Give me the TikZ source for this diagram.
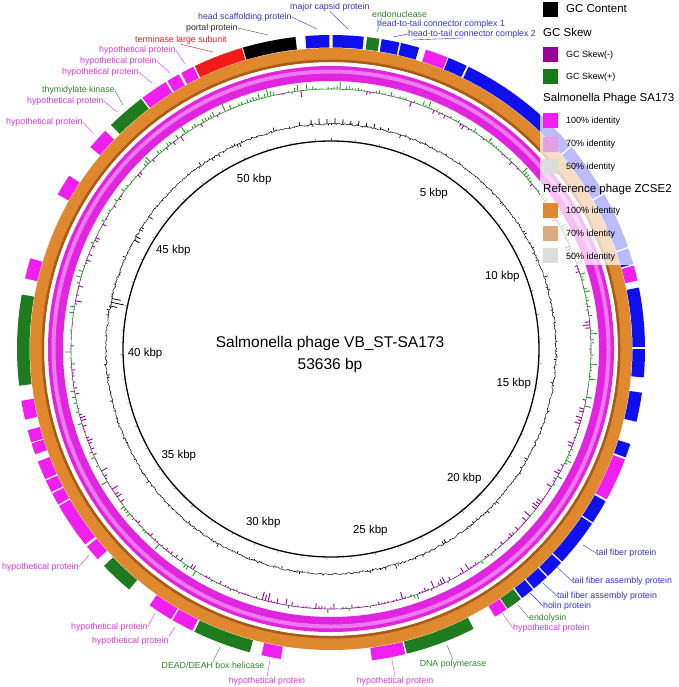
\documentclass[tikz,border=0pt]{standalone}
\usepackage{fontspec}
\setmainfont{Liberation Sans}
\definecolor{gmag}{HTML}{F01EF0}
\definecolor{gblue}{HTML}{1010EE}
\definecolor{ggreen}{HTML}{1E7B1E}
\definecolor{gred}{HTML}{F21A1A}
\definecolor{rmag}{HTML}{E024E0}
\definecolor{rmagl}{HTML}{EE78EE}
\definecolor{rorg}{HTML}{E0882E}
\definecolor{rorgd}{HTML}{A85C1A}
\definecolor{skm}{HTML}{990099}
\definecolor{skp}{HTML}{1C9A1C}
\definecolor{lmag}{HTML}{E236E2}
\definecolor{lblue}{HTML}{3232D6}
\definecolor{lgreen}{HTML}{2A8A2A}
\definecolor{lred}{HTML}{E82020}
\definecolor{lgrey}{HTML}{DDDDDD}
\definecolor{lmag7}{HTML}{E3A0E3}
\definecolor{ltan}{HTML}{DDAA7E}
\tikzset{
 lab/.style={inner sep=0pt, font=\fontsize{8.8}{10}\selectfont},
 lead/.style={line width=0.4pt},
 kbp/.style={inner sep=0pt, font=\fontsize{11.5}{13}\selectfont},
 leghead/.style={anchor=west, inner sep=0pt, font=\fontsize{11.5}{13}\selectfont},
 legitem/.style={anchor=west, inner sep=0pt, font=\fontsize{9}{10}\selectfont},
 legbox/.style={minimum size=15pt, inner sep=0pt, anchor=north west},
}
\newcommand\gene[3]{\fill[#3] ({90-(#1)}:301.5) arc[start angle={90-(#1)}, end angle={90-(#2)}, radius=301.5] -- ({90-(#2)}:314) arc[start angle={90-(#2)}, end angle={90-(#1)}, radius=314] -- cycle;}
\begin{document}
\begin{tikzpicture}[x=1pt,y=1pt]
\useasboundingbox (0,0) rectangle (678,-687);
\begin{scope}[shift={(331,-349)}]
% rings
\fill[rmag, even odd rule] (0,0) circle[radius=283] circle[radius=268];
\fill[rmagl, even odd rule] (0,0) circle[radius=279.5] circle[radius=275.5];
\fill[rorg, even odd rule] (0,0) circle[radius=301] circle[radius=287];
\fill[rorgd, even odd rule] (0,0) circle[radius=289.5] circle[radius=287];
% genes
\gene{355.3}{359.7}{gblue}
\gene{0.3}{6}{gblue}
\gene{6.6}{8.9}{ggreen}
\gene{9.3}{12.6}{gblue}
\gene{12.9}{16.3}{gblue}
\gene{17.6}{21.8}{gmag}
\gene{22}{25.6}{gblue}
\gene{26}{49.7}{gblue}
\gene{50}{60.2}{gblue}
\gene{60.5}{71}{gblue}
\gene{71.3}{74.3}{gblue}
\gene{74.6}{77.4}{gmag}
\gene{78.7}{89.6}{gblue}
\gene{90}{95.2}{gblue}
\gene{98}{103.4}{gblue}
\gene{107.6}{110.2}{gblue}
\gene{110.6}{118.6}{gmag}
\gene{119}{123.5}{gblue}
\gene{123.8}{132.6}{gblue}
\gene{132.9}{136.3}{gblue}
\gene{136.6}{139.7}{gblue}
\gene{140}{142.5}{gblue}
\gene{142.8}{145.8}{ggreen}
\gene{146}{148.5}{gmag}
\gene{153}{166}{ggreen}
\gene{166.3}{172.5}{gmag}
\gene{189.2}{192.8}{gmag}
\gene{195}{205.8}{ggreen}
\gene{206.2}{210.3}{gmag}
\gene{210.6}{215.3}{gmag}
\gene{220}{226.3}{ggreen}
\gene{228}{231}{gmag}
\gene{231.5}{240}{gmag}
\gene{240.3}{242.6}{gmag}
\gene{242.9}{245.2}{gmag}
\gene{245.5}{249}{gmag}
\gene{250.4}{252.5}{gmag}
\gene{252.7}{255}{gmag}
\gene{257}{260.5}{gmag}
\gene{263.3}{280}{ggreen}
\gene{283}{286.8}{gmag}
\gene{299.5}{303.5}{gmag}
\gene{310}{314}{gmag}
\gene{315.5}{322.8}{ggreen}
\gene{323.1}{328.2}{gmag}
\gene{328.6}{331}{gmag}
\gene{331.5}{334}{gmag}
\gene{334.3}{343.5}{gred}
\gene{343.7}{353.5}{black}
% GC skew
\pgfmathsetseed{7}
\foreach \i in {0,...,539}{%
  \pgfmathsetmacro\a{90-\i*0.6667}%
  \pgfmathsetmacro\v{8.5*rand*rnd+1.4*cos(\i*0.6667)}%
  \ifdim\v pt>0pt \def\col{skp}\else\def\col{skm}\fi
  \draw[\col, line width=0.9pt] (\a:260) -- (\a:{260+\v});
  \draw[\col, line width=0.6pt] (\a:260) arc[start angle=\a, end angle=\a-0.6667, radius=260];
}
% GC content
\draw[black, line width=0.45pt] plot[variable=\t, domain=0:359.5, samples=720] ({90-\t}:{224+2*rnd}) -- cycle;
\foreach \i in {0,...,539}{%
  \pgfmathsetmacro\a{90-\i*0.6667}%
  \pgfmathsetmacro\v{6*rand*rnd*rnd}%
  \draw[line width=0.7pt] (\a:225) -- (\a:{225+\v});
}
\foreach \t/\l in {-8/4,-5/5,-3/6,-1/5,1/6,3/5,5/4,7/5,9/4,11/4,282/-13,283/-9,281/-7,299/-6,300/-5}{%
  \draw[line width=0.8pt] ({90-\t}:225) -- ({90-\t}:{225+\l});
}
% inner circle and ticks
\draw[line width=1.3pt] (0,0) circle[radius=208];
\foreach \k in {0,...,53}{\draw[line width=0.35pt, black!70] ({90-\k*6.7119}:208) -- ({90-\k*6.7119}:210.8);}
\foreach \k in {5,10,...,50}{\node[kbp] (k\k) at ({90-\k*6.7119}:186) {\k\ kbp};}
\node[inner sep=0pt, font=\fontsize{15.5}{18}\selectfont] (title) at (-1,6) {Salmonella phage VB\_ST-SA173};
\node[inner sep=0pt, font=\fontsize{15.5}{18}\selectfont] (bp) at (-1,-16) {53636 bp};
\end{scope}
% legend fade
\fill[white, opacity=0.72] (540,0) rectangle (678,-265);
% legend
\node[legbox, fill=black] (lb1) at (543,-2) {};
\node[leghead] (lt1) at (566,-9) {GC Content};
\node[leghead] (lh2) at (543,-32) {GC Skew};
\node[legbox, fill=skm] (lb2) at (543,-47) {};
\node[legitem] (lt2) at (566,-55) {GC Skew(-)};
\node[legbox, fill=skp!80!black] (lb3) at (543,-69) {};
\node[legitem] (lt3) at (566,-77) {GC Skew(+)};
\node[leghead] (lh3) at (543,-99) {Salmonella Phage SA173};
\node[legbox, fill=gmag] (lb4) at (543,-113) {};
\node[legitem] (lt4) at (566,-121) {100\% identity};
\node[legbox, fill=lmag7] (lb5) at (543,-137) {};
\node[legitem] (lt5) at (566,-144) {70\% identity};
\node[legbox, fill=lgrey] (lb6) at (543,-159) {};
\node[legitem] (lt6) at (566,-167) {50\% identity};
\node[leghead] (lh4) at (543,-190) {Reference phage ZCSE2};
\node[legbox, fill=rorg] (lb7) at (543,-203) {};
\node[legitem] (lt7) at (566,-211) {100\% identity};
\node[legbox, fill=ltan] (lb8) at (543,-226) {};
\node[legitem] (lt8) at (566,-234) {70\% identity};
\node[legbox, fill=lgrey] (lb9) at (543,-248) {};
\node[legitem] (lt9) at (566,-257) {50\% identity};
% gene labels
\node[lab, text=lmag, anchor=west] (t1) at (6,-122) {hypothetical protein};
\node[lab, text=lmag, anchor=west] (t2) at (27,-101) {hypothetical protein};
\node[lab, text=lgreen, anchor=west] (t3) at (42,-90) {thymidylate kinase};
\node[lab, text=lmag, anchor=west] (t4) at (62,-72) {hypothetical protein};
\node[lab, text=lmag, anchor=west] (t5) at (80,-61) {hypothetical protein};
\node[lab, text=lmag, anchor=west] (t6) at (99,-50) {hypothetical protein};
\node[lab, text=lred, anchor=west] (t7) at (135,-40) {terminase large subunit};
\node[lab, text=black!85, anchor=west] (t8) at (186,-28) {portal protein};
\node[lab, text=lblue, anchor=west] (t9) at (198,-17) {head scaffolding protein};
\node[lab, text=lblue, anchor=west] (t10) at (290,-7) {major capsid protein};
\node[lab, text=lgreen, anchor=west] (t11) at (372,-14) {endonuclease};
\node[lab, text=lblue, anchor=west] (t12) at (377,-24) {head-to-tail connector complex 1};
\node[lab, text=lblue, anchor=west] (t13) at (408,-34) {head-to-tail connector complex 2};
\node[lab, text=lblue, anchor=west] (t14) at (596,-553) {tail fiber protein};
\node[lab, text=lblue, anchor=west] (t15) at (572,-581) {tail fiber assembly protein};
\node[lab, text=lblue, anchor=west] (t16) at (557,-596) {tail fiber assembly protein};
\node[lab, text=lblue, anchor=west] (t17) at (543,-606) {holin protein};
\node[lab, text=lgreen, anchor=west] (t18) at (529,-618) {endolysin};
\node[lab, text=lmag, anchor=west] (t19) at (513,-628) {hypothetical protein};
\node[lab, text=lmag] (t20) at (395,-681) {hypothetical protein};
\node[lab, text=lgreen] (t21) at (453,-664) {DNA polymerase};
\node[lab, text=lmag] (t22) at (267,-681) {hypothetical protein};
\node[lab, text=lgreen] (t23) at (213,-665) {DEAD/DEAH box helicase};
\node[lab, text=lmag, anchor=west] (t24) at (92,-641) {hypothetical protein};
\node[lab, text=lmag, anchor=west] (t25) at (71,-627) {hypothetical protein};
\node[lab, text=lmag, anchor=west] (t26) at (2,-567) {hypothetical protein};
% leader end points
\coordinate (c1) at (93,-133);
\coordinate (c2) at (117,-112);
\coordinate (c3) at (123,-105);
\coordinate (c4) at (152,-83);
\coordinate (c5) at (170,-73);
\coordinate (c6) at (185,-64);
\coordinate (c7) at (213,-52);
\coordinate (c8) at (268,-35);
\coordinate (c9) at (317,-29);
\coordinate (c10) at (348,-29);
\coordinate (c11) at (377,-32);
\coordinate (c12) at (393,-37);
\coordinate (c13a) at (412,-40);
\coordinate (c13b) at (463,-38);
\coordinate (c14) at (583,-545);
\coordinate (c15) at (557,-567);
\coordinate (c16) at (543,-583);
\coordinate (c17) at (530,-593);
\coordinate (c18) at (518,-605);
\coordinate (c19) at (500,-610);
\coordinate (c20) at (392,-660);
\coordinate (c21) at (447,-645);
\coordinate (c22) at (270,-660);
\coordinate (c23) at (220,-647);
\coordinate (c24) at (175,-627);
\coordinate (c25) at (155,-613);
\coordinate (c26) at (89,-555);
\draw[lead, lmag] (t1.east) -- (c1);
\draw[lead, lmag] (t2.east) -- (c2);
\draw[lead, lgreen] (t3.east) -- (c3);
\draw[lead, lmag] (t4.east) -- (c4);
\draw[lead, lmag] (t5.east) -- (c5);
\draw[lead, lmag] (t6.east) -- (c6);
\draw[lead, lred] (t7.south) -- (c7);
\draw[lead, black!70] (t8.east) -- (c8);
\draw[lead, lblue] (t9.east) -- (c9);
\draw[lead, lblue] (t10.south) -- (c10);
\draw[lead, lgreen] (t11.south west) ++(10,0) -- (c11);
\draw[lead, lblue] (t13.west) -- (c12);
\draw[lead, lblue] (c13a) -- (c13b);
\draw[lead, lblue] (c14) -- (t14.west);
\draw[lead, lblue] (c15) -- (t15.west);
\draw[lead, lblue] (c16) -- (t16.west);
\draw[lead, lblue] (c17) -- (t17.west);
\draw[lead, lgreen] (c18) -- (t18.west);
\draw[lead, lmag] (c19) -- (t19.west);
\draw[lead, lmag] (c20) -- (t20.north);
\draw[lead, lgreen] (c21) -- (t21.north);
\draw[lead, lmag] (c22) -- (t22.north);
\draw[lead, lgreen] (c23) -- (t23.north);
\draw[lead, lmag] (c24) -- (t24.north east);
\draw[lead, lmag] (c25) -- (t25.east);
\draw[lead, lmag] (c26) -- (t26.east);
\end{tikzpicture}
\end{document}
